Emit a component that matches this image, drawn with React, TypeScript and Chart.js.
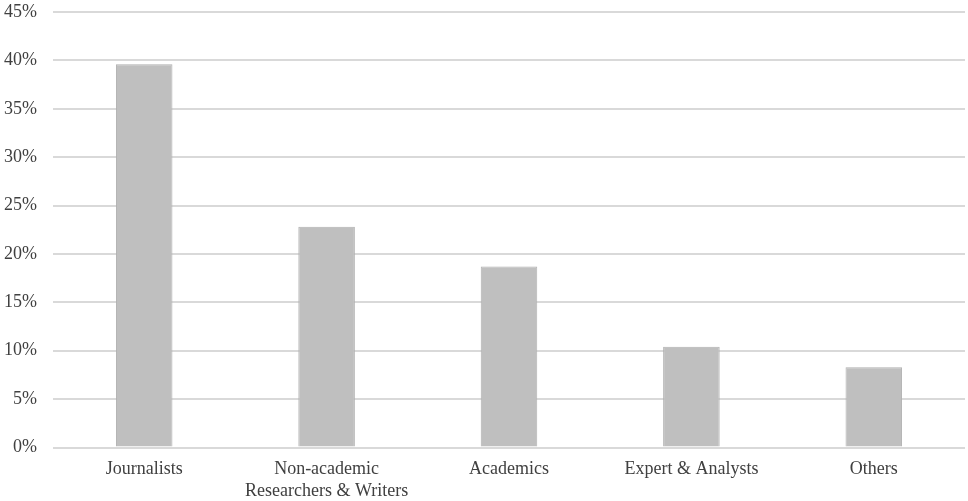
import React, { useEffect, useRef } from "react";
import { Chart, registerables } from "chart.js";

Chart.register(...registerables);

const categories: (string | string[])[] = [
  "Journalists",
  ["Non-academic", "Researchers & Writers"],
  "Academics",
  "Expert & Analysts",
  "Others",
];
const shares: number[] = [39.6, 22.8, 18.7, 10.4, 8.3];
const yMin = 0;
const yMax = 45;
const yStep = 5;

export default function App() {
  const ref = useRef<HTMLCanvasElement | null>(null);
  useEffect(() => {
    document.body.style.margin = "0";
    const ctx = ref.current!;
    const font = { family: "'Liberation Serif', 'Times New Roman', serif", size: 18 };
    const chart = new Chart(ctx, {
      type: "bar",
      data: {
        labels: categories,
        datasets: [
          {
            data: shares,
            backgroundColor: "#bfbfbf",
            borderColor: "#b0b0b0",
            borderWidth: 1,
            categoryPercentage: 1,
            barPercentage: 0.31,
          },
        ],
      },
      options: {
        animation: false,
        responsive: false,
        maintainAspectRatio: false,
        layout: { padding: { top: 12, right: 3, left: 0, bottom: 0 } },
        plugins: { legend: { display: false }, tooltip: { enabled: false } },
        scales: {
          x: {
            grid: { display: false },
            border: { display: false },
            ticks: { color: "#404040", font, padding: 3, maxRotation: 0 },
            afterFit: (s: any) => {
              s.height = 53.5;
              s.paddingLeft = 0;
              s.paddingRight = 0;
            },
          },
          y: {
            min: yMin,
            max: yMax,
            grid: { color: "#d9d9d9", lineWidth: 2, drawTicks: false },
            border: { display: false },
            ticks: {
              stepSize: yStep,
              color: "#404040",
              font,
              padding: 16,
              callback: (v: any) => v + "%",
            },
            afterFit: (s: any) => {
              s.width = 53;
              s.paddingTop = 0;
              s.paddingBottom = 0;
            },
          },
        },
      },
    });
    return () => chart.destroy();
  }, []);
  return (
    <div style={{ position: "absolute", left: 0, top: 0, width: 968, height: 501, background: "#fff" }}>
      <canvas ref={ref} width={968} height={501} />
    </div>
  );
}
